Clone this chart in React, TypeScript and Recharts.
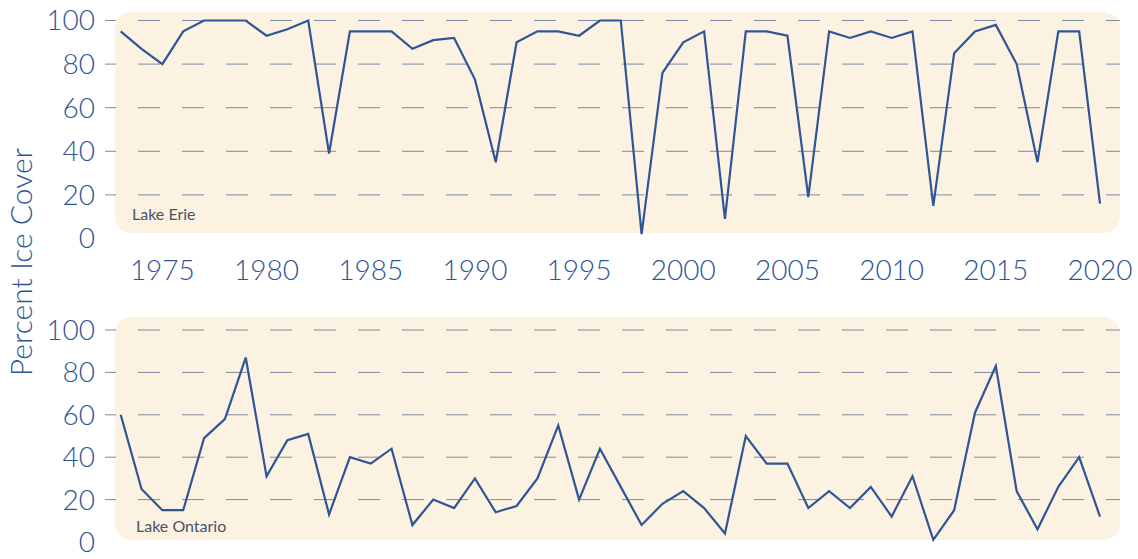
import React from 'react';
import { LineChart, Line, XAxis, YAxis, CartesianGrid } from 'recharts';

const years = [
  1973, 1974, 1975, 1976, 1977, 1978, 1979, 1980, 1981, 1982,
  1983, 1984, 1985, 1986, 1987, 1988, 1989, 1990, 1991, 1992,
  1993, 1994, 1995, 1996, 1997, 1998, 1999, 2000, 2001, 2002,
  2003, 2004, 2005, 2006, 2007, 2008, 2009, 2010, 2011, 2012,
  2013, 2014, 2015, 2016, 2017, 2018, 2019, 2020,
];

const erieCover = [
  95, 87, 80, 95, 100, 100, 100, 93, 96, 100,
  39, 95, 95, 95, 87, 91, 92, 73, 35, 90,
  95, 95, 93, 100, 100, 2, 76, 90, 95, 9,
  95, 95, 93, 19, 95, 92, 95, 92, 95, 15,
  85, 95, 98, 80, 35, 95, 95, 16,
];

const ontarioCover = [
  60, 25, 15, 15, 49, 58, 87, 31, 48, 51,
  13, 40, 37, 44, 8, 20, 16, 30, 14, 17,
  30, 55, 20, 44, 26, 8, 18, 24, 16, 4,
  50, 37, 37, 16, 24, 16, 26, 12, 31, 1,
  15, 61, 83, 24, 6, 26, 40, 12,
];

const yearTicks = [1975, 1980, 1985, 1990, 1995, 2000, 2005, 2010, 2015, 2020];
const coverTicks = [0, 20, 40, 60, 80, 100];
const gridValues = [20, 40, 60, 80, 100];

const erieData = years.map((year, i) => ({ year, cover: erieCover[i] }));
const ontarioData = years.map((year, i) => ({ year, cover: ontarioCover[i] }));

const BLUE = '#2f5597';
const FONT = 'Lato, "Open Sans", sans-serif';
const tickStyle = { fontSize: 28, fill: BLUE, fontFamily: FONT, fontWeight: 300 };

// dashed row lines, pattern phase matched to the reference
const DashedRow = (props: any) => (
  <line
    x1={props.x1}
    y1={props.y1}
    x2={props.x2}
    y2={props.y2}
    stroke="#7d8aa3"
    strokeWidth={1}
    strokeDasharray="22 22"
    strokeDashoffset={11}
  />
);

const panelStyle = (top: number, height: number): React.CSSProperties => ({
  position: 'absolute',
  left: 115,
  top,
  width: 1005,
  height,
  borderRadius: 16,
  background: '#fcf2e1',
});

const LakeChart = ({ data, height, top, bottom, showYears }: any) => (
  <LineChart width={1138} height={height} data={data} margin={{ top, right: 18, bottom, left: 0 }}>
    <CartesianGrid vertical={false} horizontalValues={gridValues} horizontal={DashedRow} />
    <XAxis
      dataKey="year"
      type="number"
      domain={[1973, 2020]}
      ticks={yearTicks}
      interval={0}
      padding={{ left: 15.7, right: 20 }}
      axisLine={false}
      tickLine={false}
      tickSize={0}
      tickMargin={22}
      height={61.5}
      tick={tickStyle}
      hide={!showYears}
    />
    <YAxis
      domain={[0, 100]}
      ticks={coverTicks}
      interval={0}
      axisLine={false}
      tickLine={false}
      tickSize={0}
      tickMargin={10}
      width={105}
      tick={tickStyle}
    />
    <Line
      type="linear"
      dataKey="cover"
      stroke={BLUE}
      strokeWidth={2.2}
      dot={false}
      isAnimationActive={false}
    />
  </LineChart>
);

export default function App() {
  return (
    <div style={{ position: 'absolute', left: 0, top: 0, width: 1138, height: 559, background: '#fff', overflow: 'hidden' }}>
      <div style={panelStyle(11.7, 221.5)} />
      <div style={panelStyle(316.7, 223.3)} />
      <div style={{ position: 'absolute', left: 0, top: 0 }}>
        <LakeChart data={erieData} height={300} top={20.5} bottom={0} showYears />
      </div>
      <div style={{ position: 'absolute', left: 0, top: 300 }}>
        <LakeChart data={ontarioData} height={259} top={30} bottom={17} showYears={false} />
      </div>
      <svg width={1138} height={559} style={{ position: 'absolute', left: 0, top: 0, pointerEvents: 'none' }}>
        <text
          transform="translate(32,262) rotate(-90)"
          textAnchor="middle"
          fontFamily={FONT}
          fontWeight={300}
          fontSize={30}
          fill={BLUE}
        >
          Percent Ice Cover
        </text>
        <text x={132} y={220} fontFamily={FONT} fontSize={16} fill="#44546a">Lake Erie</text>
        <text x={136} y={532} fontFamily={FONT} fontSize={16} fill="#44546a">Lake Ontario</text>
      </svg>
    </div>
  );
}
